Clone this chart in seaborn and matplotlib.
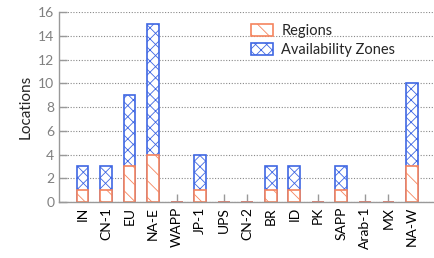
import matplotlib
matplotlib.use('Agg')
import matplotlib.pyplot as plt
import pandas as pd
import seaborn as sns

# Data
sites = ['IN', 'CN-1', 'EU', 'NA-E', 'WAPP', 'JP-1', 'UPS', 'CN-2',
         'BR', 'ID', 'PK', 'SAPP', 'Arab-1', 'MX', 'NA-W']
regions = [1, 1, 3, 4, 0, 1, 0, 0, 1, 1, 0, 1, 0, 0, 3]
zones = [2, 2, 6, 11, 0, 3, 0, 0, 2, 2, 0, 2, 0, 0, 7]

df = pd.DataFrame({'site': sites, 'regions': regions, 'zones': zones})
df['total'] = df['regions'] + df['zones']

sns.set_style('white')
plt.rcParams['font.family'] = ['Lato', 'DejaVu Sans']
plt.rcParams['hatch.linewidth'] = 0.6

orange = '#f5845e'
blue = '#3f67e3'

fig, ax = plt.subplots(figsize=(4.34, 2.58), dpi=100)
fig.subplots_adjust(left=0.136, right=0.998, bottom=0.217, top=0.953)

# stacked: totals first (zones on top), regions drawn over the bottom part
sns.barplot(data=df, x='site', y='total', order=sites, color='white',
            edgecolor=blue, hatch='xxx', linewidth=1.2, width=0.5,
            label='Availability Zones', ax=ax)
sns.barplot(data=df, x='site', y='regions', order=sites, color='white',
            edgecolor=orange, hatch='\\\\', linewidth=1.2, width=0.5,
            label='Regions', ax=ax)

ax.set_xlim(-1.0, 14.9)
ax.set_ylim(0, 16)
ax.set_yticks(range(0, 17, 2))
ax.grid(False)
ax.yaxis.grid(True, linestyle=(0, (1, 1.5)), color='#888888', linewidth=0.8)
ax.set_axisbelow(True)

ax.set_xlabel('')
ax.set_ylabel('Locations', fontsize=11)
ax.tick_params(axis='x', rotation=90, labelsize=10, direction='in', bottom=True,
               length=6, width=1, color='#999999', labelcolor='black')
ax.tick_params(axis='y', labelsize=10, direction='in', left=True, length=6,
               width=1, color='#999999', labelcolor='#808080')

for side in ['top', 'right']:
    ax.spines[side].set_visible(False)
for side in ['left', 'bottom']:
    ax.spines[side].set_color('#999999')
    ax.spines[side].set_linewidth(1.0)

handles, labels = ax.get_legend_handles_labels()
ax.legend(handles[::-1], labels[::-1], loc='upper right',
          bbox_to_anchor=(0.93, 1.0), frameon=False, fontsize=10.5,
          handlelength=1.5, handleheight=0.9, labelspacing=0.35,
          handletextpad=0.6, borderpad=0.3)

fig.savefig('out.png', dpi=100)
